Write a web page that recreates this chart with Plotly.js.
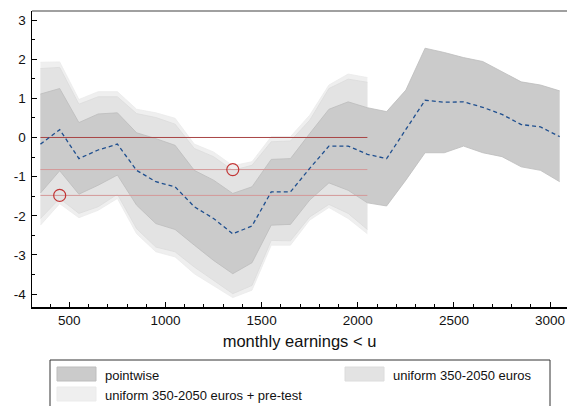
<!DOCTYPE html>
<html>
<head>
<meta charset="utf-8">
<script src="https://cdn.plot.ly/plotly-3.0.1.min.js"></script>
<style>
  html, body { margin: 0; padding: 0; background: #fff; }
  #chart { width: 567px; height: 406px; }
</style>
</head>
<body>
<div id="chart"></div>
<script>
// earnings thresholds u (euros)
const earnings = [350, 450, 550, 650, 750, 850, 950, 1050, 1150, 1250, 1350, 1450, 1550, 1650,
                  1750, 1850, 1950, 2050, 2150, 2250, 2350, 2450, 2550, 2650, 2750, 2850, 2950, 3050];
// point estimate (dashed blue)
const estimate = [-0.17, 0.2, -0.54, -0.32, -0.17, -0.84, -1.13, -1.26, -1.77, -2.07, -2.46, -2.26, -1.39, -1.39,
                  -0.79, -0.22, -0.22, -0.43, -0.54, 0.19, 0.95, 0.9, 0.91, 0.77, 0.59, 0.33, 0.27, 0.02];
// pointwise band
const pwUpper = [1.11, 1.25, 0.38, 0.6, 0.63, 0.12, -0.03, -0.2, -0.84, -1.09, -1.43, -1.26, -0.56, -0.54,
                 0.1, 0.72, 0.91, 0.76, 0.66, 1.21, 2.28, 2.17, 2.04, 1.94, 1.68, 1.42, 1.34, 1.19];
const pwLower = [-1.42, -0.85, -1.45, -1.22, -0.96, -1.73, -2.2, -2.35, -2.75, -3.14, -3.48, -3.2, -2.24, -2.22,
                 -1.6, -1.16, -1.35, -1.67, -1.75, -1.09, -0.39, -0.39, -0.22, -0.39, -0.49, -0.75, -0.84, -1.13];
// uniform band 350-2050 euros (first 18 thresholds)
const uniUpper = [1.76, 1.79, 0.85, 1.04, 1.04, 0.61, 0.51, 0.34, -0.28, -0.49, -0.84, -0.71, -0.11, -0.09, 0.44, 1.25, 1.49, 1.41];
const uniLower = [-2.07, -1.56, -1.94, -1.77, -1.45, -2.33, -2.8, -2.92, -3.31, -3.65, -3.99, -3.78, -2.63, -2.64, -2.03, -1.71, -1.94, -2.35];
// uniform band + pre-test
const preUpper = [1.92, 1.93, 0.97, 1.17, 1.17, 0.72, 0.63, 0.49, -0.17, -0.37, -0.72, -0.62, 0.02, 0.02, 0.57, 1.34, 1.62, 1.53];
const preLower = [-2.24, -1.69, -2.05, -1.86, -1.56, -2.46, -2.92, -3.05, -3.48, -3.78, -4.09, -3.9, -2.75, -2.75, -2.11, -1.79, -2.07, -2.46];
// horizontal reference lines and marked points
const refX = [350, 2050];
const refY = [0, -0.82, -1.48];
const circX = [450, 1350];
const circY = [-1.48, -0.82];
// tick labels (plain hyphen minus, as in the original)
const xTicks = [500, 1000, 1500, 2000, 2500, 3000];
const yTicks = [-4, -3, -2, -1, 0, 1, 2, 3];
const yTickText = ['-4', '-3', '-2', '-1', '0', '1', '2', '3'];
const legendLabels = ['pointwise', 'uniform 350-2050 euros', 'uniform 350-2050 euros + pre-test'];

const uniX = earnings.slice(0, uniUpper.length);

const W = 567, H = 406;
const M = {l: 32, r: 0, t: 11, b: 99};
const pw = W - M.l - M.r, ph = H - M.t - M.b;
const px = x => (x - M.l) / pw;
const py = y => (H - M.b - y) / ph;

function band(x, lo, hi, fill, edge) {
    return [
        {x: x, y: lo, type: 'scatter', mode: 'lines', line: {color: edge, width: 0.8}, hoverinfo: 'skip'},
        {x: x, y: hi, type: 'scatter', mode: 'lines', fill: 'tonexty', fillcolor: fill,
         line: {color: edge, width: 0.8}, hoverinfo: 'skip'}
    ];
}

const traces = [].concat(
    band(uniX, preLower, preUpper, '#efefef', '#ebebeb'),
    band(uniX, uniLower, uniUpper, '#e3e3e3', '#dcdcdc'),
    band(earnings, pwLower, pwUpper, '#cbcbcb', '#bdbdbd')
);

// reference lines
refY.forEach((v, i) => {
    traces.push({x: refX, y: [v, v], type: 'scatter', mode: 'lines',
        line: {color: i === 0 ? '#a84444' : '#d49898', width: 1}, hoverinfo: 'skip'});
});

traces.push({x: earnings, y: estimate, type: 'scatter', mode: 'lines',
    line: {color: '#1f4f8f', width: 1.3, dash: '4px,3px'}});

traces.push({x: circX, y: circY, type: 'scatter', mode: 'markers',
    marker: {symbol: 'circle-open', size: 12, color: '#c23434', line: {width: 1.2}}});

// legend drawn as shapes + annotations
const swatchCols = ['#cbcbcb', '#e3e3e3', '#efefef'];
const swatchEdge = ['#bdbdbd', '#dcdcdc', '#ebebeb'];
const slots = [[57, 367], [345, 367], [57, 387]];
const shapes = [
    {type: 'line', xref: 'paper', yref: 'paper', x0: 0, x1: 1, y0: 1, y1: 1,
     line: {color: '#808080', width: 1.5}},
    {type: 'rect', xref: 'paper', yref: 'paper', x0: px(50), x1: px(550), y0: py(360), y1: py(412),
     line: {color: '#333', width: 1}, fillcolor: 'rgba(0,0,0,0)'}
];
const annotations = [];
legendLabels.forEach((lab, i) => {
    const [sx, sy] = slots[i];
    shapes.push({type: 'rect', xref: 'paper', yref: 'paper',
        x0: px(sx), x1: px(sx + 39), y0: py(sy), y1: py(sy + 14),
        line: {color: swatchEdge[i], width: 1}, fillcolor: swatchCols[i]});
    annotations.push({xref: 'paper', yref: 'paper', x: px(sx + 46), y: py(sy + 8),
        xanchor: 'left', yanchor: 'middle', showarrow: false, text: lab,
        font: {size: 13, color: '#111'}});
});

const layout = {
    width: W, height: H,
    margin: M,
    showlegend: false,
    paper_bgcolor: '#fff', plot_bgcolor: '#fff',
    font: {family: 'Liberation Sans, Arial, sans-serif', color: '#111'},
    xaxis: {
        range: [306, 3088],
        tickvals: xTicks,
        ticks: 'inside', ticklen: 5, tickcolor: '#000', tickwidth: 1,
        minor: {dtick: 100, tick0: 0, ticks: 'inside', ticklen: 3, tickcolor: '#000'},
        showgrid: false, zeroline: false,
        showline: true, linecolor: '#000', linewidth: 1.5,
        tickfont: {size: 13.5},
        title: {text: 'monthly earnings < u', font: {size: 16.5}, standoff: 8}
    },
    yaxis: {
        range: [-4.33, 3.23],
        tickvals: yTicks, ticktext: yTickText,
        ticks: 'inside', ticklen: 5, tickcolor: '#000', tickwidth: 1,
        minor: {dtick: 0.5, tick0: 0, ticks: 'inside', ticklen: 3, tickcolor: '#000'},
        showgrid: false, zeroline: false,
        showline: true, linecolor: '#000', linewidth: 1.5,
        tickfont: {size: 13.5},
        ticklabelstandoff: 2
    },
    shapes: shapes,
    annotations: annotations
};

Plotly.newPlot('chart', traces, layout, {displayModeBar: false, staticPlot: true});
</script>
</body>
</html>
